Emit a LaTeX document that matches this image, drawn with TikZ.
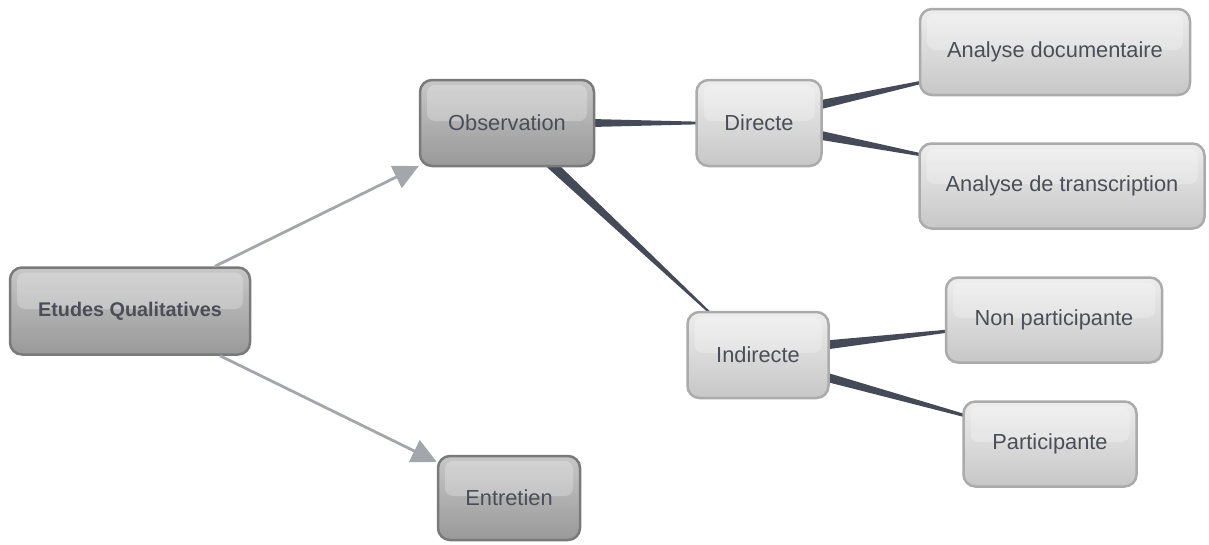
\documentclass[tikz,border=0pt]{standalone}
\usepackage{fontspec}
\setmainfont{Liberation Sans}
\usetikzlibrary{calc,arrows.meta,backgrounds}
\definecolor{txt}{HTML}{4B4E57}
\definecolor{conn}{HTML}{454A58}
\definecolor{arr}{HTML}{A3A6AB}
\tikzset{
  box/.style={rounded corners=12pt, line width=2.5pt, text=txt, font=\fontsize{21.8}{26}\selectfont,
    inner sep=0pt, align=center,
    path picture={\fill[white,opacity=0.25,rounded corners=8pt]
      ([xshift=7pt,yshift=-5pt]path picture bounding box.north west) rectangle
      ([xshift=-7pt,yshift=2pt]path picture bounding box.east);}},
  darkbox/.style={box, draw=black!52, top color=black!22, bottom color=black!40},
  lightbox/.style={box, draw=black!33, top color=black!7, bottom color=black!22},
  garrow/.style={draw=arr, line width=2.8pt, -{Triangle[length=25pt,width=24pt]}},
}
\newcommand\taper[4]{%
  \fill[conn] ($(#1)!#3!90:(#2)$) -- ($(#1)!#3!-90:(#2)$) -- ($(#2)!#4!90:(#1)$) -- ($(#2)!#4!-90:(#1)$) -- cycle;}
\begin{document}
\begin{tikzpicture}[x=1pt,y=-1pt]
\useasboundingbox (0,0) rectangle (1209,544);
\node[darkbox, minimum width=240pt, minimum height=87pt, font=\fontsize{19.8}{24}\selectfont\bfseries] (eq) at (130,311) {Etudes Qualitatives};
\node[darkbox, minimum width=174pt, minimum height=86pt] (obs) at (507,123) {Observation};
\node[darkbox, minimum width=142pt, minimum height=84pt] (ent) at (509,498) {Entretien};
\node[lightbox, minimum width=125pt, minimum height=86pt] (dir) at (759,123) {Directe};
\node[lightbox, minimum width=141pt, minimum height=86pt] (ind) at (758,355) {Indirecte};
\node[lightbox, minimum width=270pt, minimum height=86pt] (ad) at (1055,52) {Analyse documentaire};
\node[lightbox, minimum width=285pt, minimum height=85pt] (at) at (1062,186) {Analyse de transcription};
\node[lightbox, minimum width=216pt, minimum height=85pt] (np) at (1054,320) {Non participante};
\node[lightbox, minimum width=173pt, minimum height=85pt] (pa) at (1050,444) {Participante};
\coordinate (o1) at ($(obs.east)+(-4,0)$);
\coordinate (d1) at ($(dir.west)+(4,0)$);
\coordinate (o2) at ($(obs.south)+(43,-4)$);
\coordinate (i2) at ($(ind.north)+(-46,4)$);
\coordinate (d3) at ($(dir.east)+(-4,-18)$);
\coordinate (a3) at ($(ad.west)+(4,30)$);
\coordinate (d4) at ($(dir.east)+(-4,12)$);
\coordinate (a4) at ($(at.west)+(4,-31)$);
\coordinate (i5) at ($(ind.east)+(-4,-10)$);
\coordinate (n5) at ($(np.west)+(4,11)$);
\coordinate (i6) at ($(ind.east)+(-4,22)$);
\coordinate (p6) at ($(pa.west)+(4,-28)$);
\begin{pgfonlayer}{background}
\taper{o1}{d1}{4pt}{1.3pt}
\taper{o2}{i2}{5pt}{1pt}
\taper{d3}{a3}{4.5pt}{1.5pt}
\taper{d4}{a4}{4.5pt}{1.5pt}
\taper{i5}{n5}{4.5pt}{1.5pt}
\taper{i6}{p6}{4.5pt}{1.5pt}
\end{pgfonlayer}
\draw[garrow] ($(eq.north)+(85,0)$) -- ($(obs.west)+(0,43)$);
\draw[garrow] ($(eq.south)+(90,0)$) -- ($(ent.west)+(0,-36)$);
\end{tikzpicture}
\end{document}
